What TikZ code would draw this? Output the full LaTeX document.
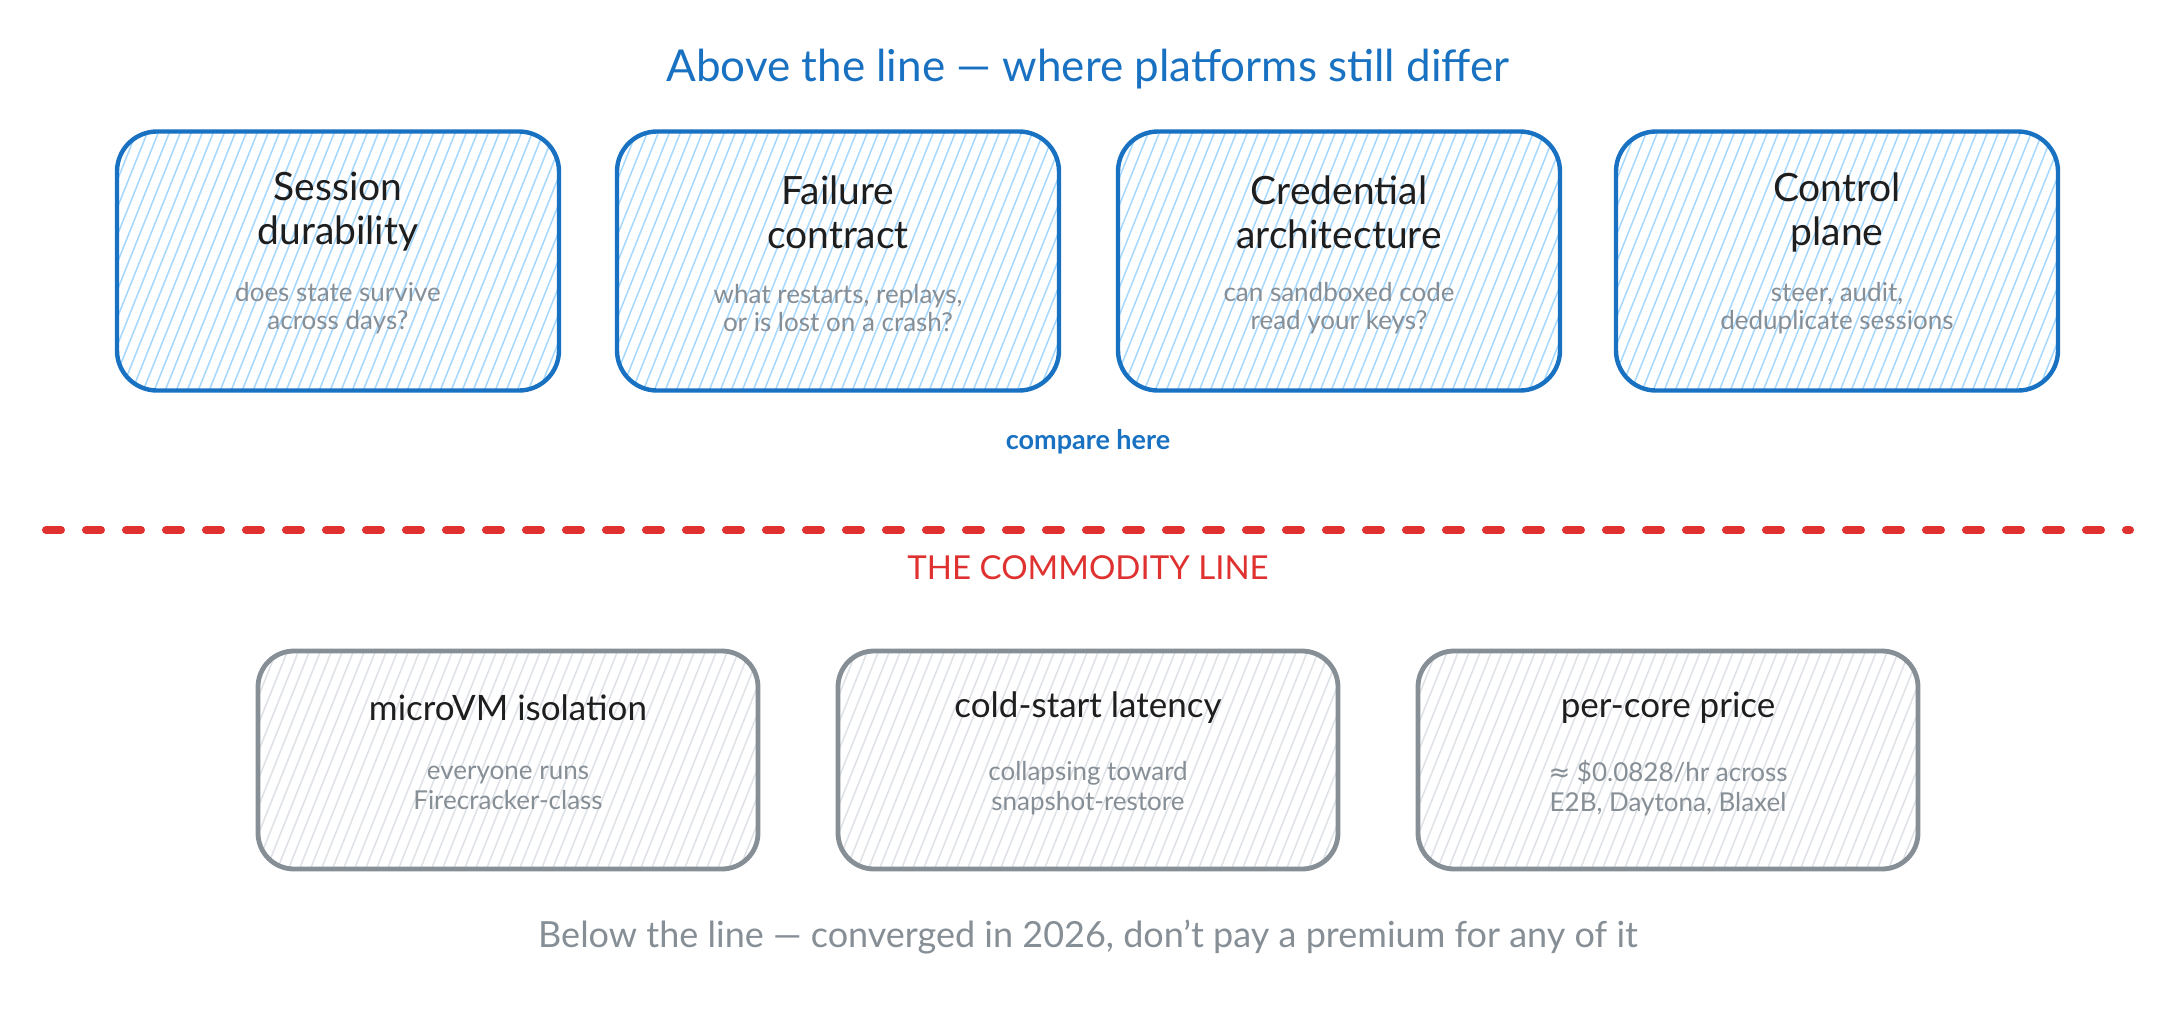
\documentclass[tikz,border=0pt]{standalone}
\usepackage{fontspec}
\setmainfont{Lato}
\newfontfamily\symfont{DejaVu Sans}
\definecolor{blueS}{HTML}{1971C2}
\definecolor{blueH}{HTML}{A5D8FF}
\definecolor{grayS}{HTML}{868E96}
\definecolor{grayH}{HTML}{DEE2E6}
\definecolor{redL}{HTML}{E03131}
\definecolor{inkC}{HTML}{1E1E1E}
\tikzset{
  hatch/.style={path picture={
    \foreach \k in {-36,...,36}{
      \draw[#1, line width=0.75pt] ([xshift=\k*5.5pt]path picture bounding box.center) ++(-32pt,-80pt) -- ++(64pt,160pt);
    }}},
  pbox/.style={draw=blueS, line width=2.2pt, rounded corners=20pt, minimum width=221pt, minimum height=129.5pt, inner sep=0pt, hatch=blueH},
  gbox/.style={draw=grayS, line width=2.4pt, rounded corners=18pt, minimum width=250pt, minimum height=109pt, inner sep=0pt, hatch=grayH},
  ttl/.style={align=center, text=inkC, font=\fontsize{19.5}{22}\selectfont, inner sep=0pt},
  bttl/.style={align=center, text=inkC, font=\fontsize{17.5}{20}\selectfont, inner sep=0pt},
  sub/.style={align=center, text=grayS, font=\fontsize{13}{14}\selectfont, inner sep=0pt},
  bsub/.style={align=center, text=grayS, font=\fontsize{13}{15}\selectfont, inner sep=0pt},
  commline/.style={draw=redL, line width=4pt, line cap=round, dash pattern=on 7.5pt off 12.5pt},
}
\begin{document}
\begin{tikzpicture}[x=0.5pt, y=-0.5pt]
\useasboundingbox (0,0) rectangle (2176,1008);
\fill[white] (0,0) rectangle (2176,1008);

\node[text=blueS, font=\fontsize{22}{24}\selectfont, inner sep=0pt] (title) at (1088,69) {Above the line — where platforms still differ};

% top boxes
\node[pbox] (p1) at (338,261) {};
\node[pbox] (p2) at (838,261) {};
\node[pbox] (p3) at (1339,261) {};
\node[pbox] (p4) at (1837,261) {};

\node[ttl] (p1t) at (338,212) {Session\\durability};
\node[sub] (p1s) at (338,308) {does state survive\\across days?};
\node[ttl] (p2t) at (838,212) {Failure\\contract};
\node[sub] (p2s) at (838,308) {what restarts, replays,\\or is lost on a crash?};
\node[ttl] (p3t) at (1339,212) {Credential\\architecture};
\node[sub] (p3s) at (1339,308) {can sandboxed code\\read your keys?};
\node[ttl] (p4t) at (1837,212) {Control\\plane};
\node[sub] (p4s) at (1837,308) {steer, audit,\\deduplicate sessions};

\node[text=blueS, font=\bfseries\fontsize{13.5}{15}\selectfont, inner sep=0pt] (cmp) at (1088,442) {compare here};

% commodity line
\coordinate (lineL) at (46,530);
\coordinate (lineR) at (2130,530);
\draw[commline] (lineL) -- (lineR);
\node[text=redL, font=\fontsize{16.5}{18}\selectfont, inner sep=0pt] (cl) at (1088,568) {THE COMMODITY LINE};

% bottom boxes
\node[gbox] (g1) at (508,760) {};
\node[gbox] (g2) at (1088,760) {};
\node[gbox] (g3) at (1668,760) {};

\node[bttl] (g1t) at (508,708) {microVM isolation};
\node[bsub] (g1s) at (508,788) {everyone runs\\Firecracker-class};
\node[bttl] (g2t) at (1088,708) {cold-start latency};
\node[bsub] (g2s) at (1088,788) {collapsing toward\\snapshot-restore};
\node[bttl] (g3t) at (1668,708) {per-core price};
\node[bsub] (g3s) at (1668,788) {{\symfont ≈} \$0.0828/hr across\\E2B, Daytona, Blaxel};

\node[text=grayS, font=\fontsize{18}{20}\selectfont, inner sep=0pt] (cap) at (1088,937) {Below the line — converged in 2026, don't pay a premium for any of it};
\end{tikzpicture}
\end{document}
